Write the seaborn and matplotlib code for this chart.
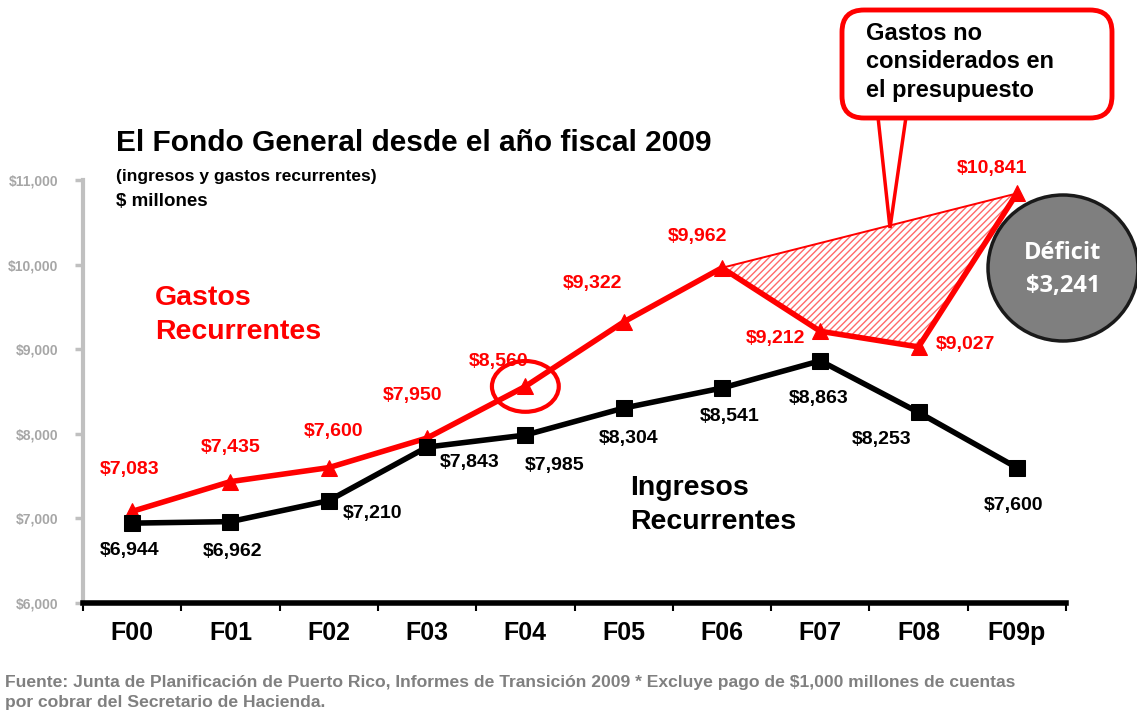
import matplotlib
matplotlib.use("Agg")
import matplotlib.pyplot as plt
import matplotlib.patches as mpatches
from matplotlib import font_manager as fm
import numpy as np
import pandas as pd
import seaborn as sns

# ---------------- data ----------------
years = ["F00", "F01", "F02", "F03", "F04", "F05", "F06", "F07", "F08", "F09p"]
gastos = [7083, 7435, 7600, 7950, 8560, 9322, 9962, 9212, 9027, 10841]
ingresos = [6944, 6962, 7210, 7843, 7985, 8304, 8541, 8863, 8253, 7600]
y_ticks = [6000, 7000, 8000, 9000, 10000, 11000]
deficit = 3241

# ---------------- style ----------------
sns.set_theme(style="white")
narrow = None
for fam in ["Liberation Sans Narrow", "Arial Narrow"]:
    try:
        fm.findfont(fm.FontProperties(family=fam), fallback_to_default=False)
        narrow = fam
        break
    except Exception:
        pass
fams = ([narrow] if narrow else []) + ["Liberation Sans", "DejaVu Sans"]
plt.rcParams["font.family"] = fams
plt.rcParams["hatch.linewidth"] = 1.0

W, H = 1137, 715
fig = plt.figure(figsize=(W / 100, H / 100), dpi=100)
fig.patch.set_facecolor("white")

def fx(px):
    return px / W

def fy(py):
    return 1 - py / H

ax = fig.add_axes([fx(83), fy(603), fx(1066) - fx(83), fy(180) - fy(603)])
ax.set_facecolor("white")

x = np.arange(len(years))
df = pd.DataFrame({"x": np.concatenate([x, x]),
                   "valor": gastos + ingresos,
                   "serie": ["Gastos"] * len(x) + ["Ingresos"] * len(x)})

# hatched area: trend from F06 to F09p vs actual expenses
i0, i1 = 6, 9
xs = x[i0:i1 + 1]
trend = np.interp(xs, [i0, i1], [gastos[i0], gastos[i1]])
ax.fill_between(xs, trend, np.array(gastos[i0:i1 + 1]), facecolor="white",
                edgecolor="#ff6a6a", hatch="/////", linewidth=0, zorder=1)
ax.plot(xs, trend, color="red", lw=1.4, zorder=2)

sns.lineplot(data=df, x="x", y="valor", hue="serie", style="serie",
             palette={"Gastos": "#ff0000", "Ingresos": "#000000"},
             markers={"Gastos": "^", "Ingresos": "s"}, dashes=False,
             linewidth=4, markersize=11, markeredgecolor=None,
             legend=False, ax=ax, zorder=3)

ax.set_xlim(-0.5, len(years) - 0.5)
ax.set_ylim(y_ticks[0], y_ticks[-1])
ax.set_yticks(y_ticks)
ax.set_yticklabels([f"${v:,}" for v in y_ticks], color="#a6a6a6",
                   fontsize=10, fontweight="bold")
ax.set_xticks(x)
ax.set_xticklabels(years, fontsize=18, fontweight="bold", color="black")
ax.set_xticks(np.arange(-0.5, len(years)), minor=True)
ax.tick_params(axis="x", which="major", length=0, pad=13)
ax.tick_params(axis="x", which="minor", length=6, width=1.5, color="black",
               direction="out", bottom=True)
ax.tick_params(axis="y", length=6, width=2.5, color="#c0c0c0", direction="out",
               left=True, pad=12)
ax.set_xlabel("")
ax.set_ylabel("")
for s in ["top", "right"]:
    ax.spines[s].set_visible(False)
ax.spines["left"].set_color("#c0c0c0")
ax.spines["left"].set_linewidth(3)
ax.spines["bottom"].set_color("black")
ax.spines["bottom"].set_linewidth(4)
ax.grid(False)

# data labels
g_off = [(-3, 42), (0, 34), (5, 36), (-15, 43), (-27, 25), (-31, 38),
         (-24, 31), (-45, -7), (47, 2), (-25, 25)]
i_off = [(-3, -27), (2, -30), (44, -13), (43, -15), (29, -30), (5, -30),
         (8, -28), (-2, -38), (-37, -27), (-3, -38)]
for xi, v, o in zip(x, gastos, g_off):
    ax.annotate(f"${v:,}", (xi, v), xytext=o, textcoords="offset pixels",
                ha="center", va="center", color="red", fontsize=14,
                fontweight="bold", zorder=5)
for xi, v, o in zip(x, ingresos, i_off):
    ax.annotate(f"${v:,}", (xi, v), xytext=o, textcoords="offset pixels",
                ha="center", va="center", color="black", fontsize=14,
                fontweight="bold", zorder=5)

# circle around F04
ax.add_patch(mpatches.Ellipse((4, gastos[4]), 0.68, 600, fill=False,
                              edgecolor="red", lw=3, zorder=6))

# series names
fig.text(fx(155), fy(298), "Gastos", color="red", fontsize=20.5,
         fontweight="bold", va="center")
fig.text(fx(155), fy(332), "Recurrentes", color="red", fontsize=20.5,
         fontweight="bold", va="center")
fig.text(fx(630), fy(488), "Ingresos", color="black", fontsize=20.5,
         fontweight="bold", va="center")
fig.text(fx(630), fy(522), "Recurrentes", color="black", fontsize=20.5,
         fontweight="bold", va="center")

# titles
fig.text(fx(116), fy(143), "El Fondo General desde el año fiscal 2009",
         fontsize=21.5, fontweight="bold", va="center", color="black")
fig.text(fx(116), fy(177), "(ingresos y gastos recurrentes)",
         fontsize=12.5, fontweight="bold", va="center", color="black")
fig.text(fx(116), fy(201), "$ millones", fontsize=13.5, fontweight="bold",
         va="center", color="black")

# callout box (in inches from bottom-left)
tr = fig.dpi_scale_trans
def P(px, py):
    return (px / 100, (H - py) / 100)

bx0, by0 = P(842, 118)
bx1, by1 = P(1112, 10)
box = mpatches.FancyBboxPatch((bx0, by0), bx1 - bx0, by1 - by0,
                              boxstyle="round,pad=0,rounding_size=0.22",
                              transform=tr, facecolor="white",
                              edgecolor="red", lw=3.5, zorder=10)
fig.patches.append(box)
ptr = mpatches.Polygon([P(878, 117), P(890, 228), P(906, 117)], closed=False,
                       transform=tr, facecolor="none", edgecolor="red",
                       lw=2.5, zorder=11)
fig.patches.append(ptr)
for i, line in enumerate(["Gastos no", "considerados en", "el presupuesto"]):
    fig.text(fx(866), fy(33 + 29 * i), line, fontsize=17, fontweight="bold",
             va="center", color="black", zorder=12)

# deficit bubble
cx, cy = P(1063, 268)
ell = mpatches.Ellipse((cx, cy), 1.50, 1.46, transform=tr,
                       facecolor="#7f7f7f", edgecolor="#1a1a1a", lw=2.5,
                       zorder=10)
fig.patches.append(ell)
fig.text(fx(1063), fy(253), "Déficit", color="white", fontsize=17,
         fontweight="bold", ha="center", va="center", zorder=12,
         family=["Open Sans", "DejaVu Sans"])
fig.text(fx(1063), fy(286), f"${deficit:,}", color="white", fontsize=17,
         fontweight="bold", ha="center", va="center", zorder=12,
         family=["Open Sans", "DejaVu Sans"])

# footer
fig.text(fx(5), fy(682),
         "Fuente: Junta de Planificación de Puerto Rico, Informes de Transición 2009 * Excluye pago de $1,000 millones de cuentas",
         fontsize=12.6, fontweight="bold", color="#808080", va="center")
fig.text(fx(5), fy(703), "por cobrar del Secretario de Hacienda.",
         fontsize=12.6, fontweight="bold", color="#808080", va="center")

fig.savefig("out.png", dpi=100, facecolor="white")
